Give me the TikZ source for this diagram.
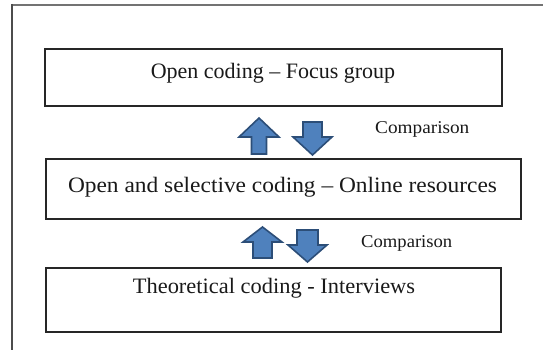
\documentclass[tikz,border=0pt]{standalone}
\usepackage{fontspec}
\setmainfont{Liberation Serif}
\definecolor{arrowfill}{RGB}{79,129,189}
\definecolor{arrowline}{RGB}{44,78,120}
\begin{document}
\begin{tikzpicture}[x=1pt,y=-1pt,
  stagebox/.style={draw=black!85,line width=1.2pt},
  stagetext/.style={anchor=base,inner sep=0pt,font=\fontsize{22}{24}\selectfont,text=black!90},
  cmptext/.style={anchor=base west,inner sep=0pt,font=\fontsize{18}{20}\selectfont,text=black!90},
  blockarrow/.style={fill=arrowfill,draw=arrowline,line width=1.6pt,line join=miter}]
\useasboundingbox (0,0) rectangle (543,350);
\begin{scope}
\clip (0,0) rectangle (543,350);
\draw[black!55,line width=2pt] (12,5) -- (560,5);
\draw[black!70,line width=2pt] (12,4) -- (12,360);
\end{scope}
% boxes
\draw[stagebox] (45,49) rectangle (502,106);
\draw[stagebox] (46,159) rectangle (521,219);
\draw[stagebox] (46,268) rectangle (501,332);
\node[stagetext] (t1) at (273,79) {Open coding – Focus group};
\node[stagetext] (t2) at (282.5,192) {\scalebox{1.064}[1]{Open and selective coding – Online resources}};
\node[stagetext] (t3) at (274,293) {\scalebox{1.02}[1]{Theoretical coding - Interviews}};
\node[cmptext] (c1) at (375,134) {\scalebox{1.07}[1]{Comparison}};
\node[cmptext] (c2) at (361,247) {\scalebox{1.035}[1]{Comparison}};
% arrows pair 1
\draw[blockarrow] (259,118) -- (279,137) -- (266.5,137) -- (266.5,154) -- (251.5,154) -- (251.5,137) -- (239,137) -- cycle;
\draw[blockarrow] (312.5,155) -- (332,137) -- (322,137) -- (322,122) -- (303,122) -- (303,137) -- (293,137) -- cycle;
% arrows pair 2
\draw[blockarrow] (262.5,227) -- (282,242) -- (272,242) -- (272,258) -- (253,258) -- (253,242) -- (243,242) -- cycle;
\draw[blockarrow] (307.5,262) -- (327,245) -- (318,245) -- (318,230) -- (297,230) -- (297,245) -- (288,245) -- cycle;
\end{tikzpicture}
\end{document}
